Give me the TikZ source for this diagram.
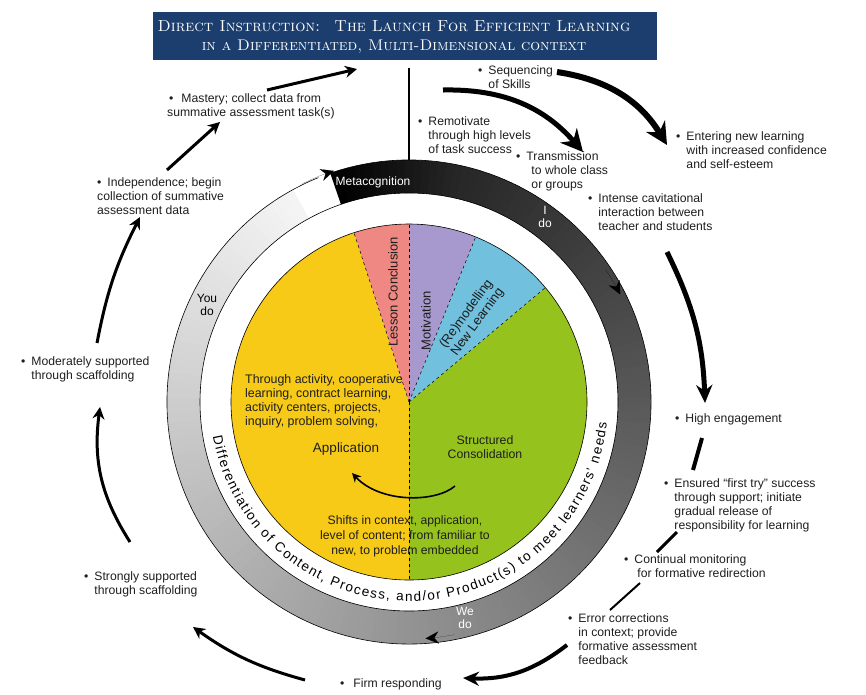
\documentclass[tikz,border=0pt]{standalone}
\usepackage{fontspec}
\setsansfont{Liberation Sans}
\usetikzlibrary{arrows.meta,decorations.text}

\definecolor{titleblue}{RGB}{28,62,110}
\definecolor{appyellow}{RGB}{247,202,24}
\definecolor{consgreen}{RGB}{150,194,30}
\definecolor{modblue}{RGB}{112,192,222}
\definecolor{motpurple}{RGB}{167,153,206}
\definecolor{conpink}{RGB}{239,136,130}
\definecolor{inktext}{RGB}{30,30,30}

\newcommand{\bitem}[1]{\textbullet\hspace{6pt}\begin{tabular}[t]{@{}l@{}}#1\end{tabular}}
\newcommand{\pitem}[1]{\begin{tabular}[t]{@{}l@{}}#1\end{tabular}}

\begin{document}
\begin{tikzpicture}[x=1pt,y=1pt,
    note/.style={anchor=base west, inner sep=0pt, text=inktext,
      font=\sffamily\fontsize{12.2}{14.3}\selectfont},
    slice/.style={draw=black, line width=0.5pt, dashed},
    ringlbl/.style={inner sep=0pt, align=center, font=\sffamily\fontsize{12}{13.5}\selectfont},
    pielbl/.style={inner sep=0pt, align=center, text=inktext,
      font=\sffamily\fontsize{13}{14}\selectfont},
    cyc/.style={line width=3pt, -{Stealth[length=12pt,width=12pt]}},
    bigcyc/.style={line width=6pt, -{Stealth[length=22pt,width=22pt]}},
    cycbar/.style={line width=3pt},
    ringtip/.style={line width=0.05pt, -{Stealth[length=13pt,width=12pt]}}]

\useasboundingbox (0,0) rectangle (866,-694);

% title bar
\node[fill=titleblue, minimum width=504, minimum height=48] (title) at (405,-36) {};
\node[text=white, align=center, font=\rmfamily\scshape\fontsize{16}{18.5}\selectfont]
  (titletext) at (394,-37) {Direct Instruction: \ The Launch For Efficient Learning\\
  {\fontsize{15.5}{17}\selectfont in a Differentiated, Multi-Dimensional context}};

\begin{scope}[shift={(409,-402)}]
  % graded ring, clockwise from metacognition
  \foreach \t in {0,2,...,348} {
    \pgfmathsetmacro{\ringk}{\t<30 ? 100-0.5*\t : 85-0.254*(\t-30)}
    \pgfmathsetmacro{\ringa}{109-\t}
    \pgfmathsetmacro{\ringb}{106.6-\t}
    \fill[black!\ringk] (\ringa:209) arc[start angle=\ringa, end angle=\ringb, radius=209]
      -- (\ringb:242) arc[start angle=\ringb, end angle=\ringa, radius=242] -- cycle;
  }
  \draw[line width=0.6pt] (0,0) circle[radius=209];
  \draw[line width=0.6pt] (109:242) arc[start angle=109, end angle=-248, radius=242];
  \draw[ringtip] (116:243) arc[start angle=116, end angle=108, radius=243];
  \draw[ringtip] (34:237) arc[start angle=34, end angle=27, radius=237];
  \draw[ringtip] (-79:237) arc[start angle=-79, end angle=-86, radius=237];

  % pie
  \foreach \from/\to/\col in {108/270/appyellow, -90/40/consgreen,
      40/68/modblue, 68/90/motpurple, 90/108/conpink}
    \fill[\col] (0,0) -- (\from:178) arc[start angle=\from, end angle=\to, radius=178] -- cycle;
  \foreach \a in {40,68,90,108,270}
    \draw[slice] (0,0) -- (\a:178);
  \draw[line width=0.6pt] (0,0) circle[radius=178];

  % text round the pie
  \path[decorate, decoration={text along path, text align={fit to path},
      text={|\sffamily\fontsize{13.5}{15}\selectfont|Differentiation of Content, Process, and/or Product(s) to meet learners’ needs}}]
    (190:199) arc[start angle=190, end angle=354, radius=199];
\end{scope}

% ring labels
\node[ringlbl, text=white] (meta) at (373,-182) {Metacognition};
\node[ringlbl, text=white] (ido) at (545,-217) {I\\do};
\node[ringlbl, text=black] (youdo) at (207,-305) {You\\do};
\node[ringlbl, text=white] (wedo) at (465,-618) {We\\do};

% pie labels
\node[pielbl, rotate=90] (conclusion) at (393,-292) {Lesson Conclusion};
\node[pielbl, rotate=90] (motivation) at (426,-321) {Motivation};
\node[pielbl, rotate=54] (remodel) at (472,-318) {(Re)modelling\\New Learning};
\node[note, font=\sffamily\fontsize{12.4}{14}\selectfont] (through) at (245,-383) {\pitem{Through activity, cooperative\\learning, contract learning,\\activity centers, projects,\\inquiry, problem solving,}};
\node[pielbl, font=\sffamily\fontsize{13.5}{14}\selectfont] (application) at (346,-449) {Application};
\node[pielbl, font=\sffamily\fontsize{12.3}{13.5}\selectfont] (consol) at (485,-447) {Structured\\Consolidation};
\node[pielbl, font=\sffamily\fontsize{12.2}{15}\selectfont] (shifts) at (405,-536) {Shifts in context, application,\\level of content; from familiar to\\new, to problem embedded};
\coordinate (swingA) at (455,-486);
\coordinate (swingB) at (352,-473);
\draw[line width=1.6pt, -{Stealth[length=9pt,width=9pt]}] (swingA) .. controls (435,-503) and (380,-503) .. (swingB);

% stages round the cycle
\node[note] (seq) at (478,-74) {\bitem{Sequencing\\of Skills}};
\node[note] (remot) at (418,-125) {\bitem{Remotivate\\through high levels\\of task success}};
\node[note] (trans) at (516,-160) {\bitem{Transmission\\\hspace{5pt}to whole class\\\hspace{5pt}or groups}};
\node[note] (enter) at (676,-140) {\bitem{Entering new learning\\with increased confidence\\and self-esteem}};
\node[note] (intense) at (588,-202) {\bitem{Intense cavitational\\interaction between\\teacher and students}};
\node[note] (high) at (675,-422) {\bitem{High engagement}};
\node[note] (ensured) at (664,-487) {\bitem{Ensured “first try” success\\through support; initiate\\gradual release of\\responsibility for learning}};
\node[note] (contin) at (624,-563) {\bitem{Continual monitoring\\\hspace{3pt}for formative redirection}};
\node[note] (error) at (568,-622) {\bitem{Error corrections\\in context; provide\\formative assessment\\feedback}};
\node[note] (firm) at (340,-687) {\textbullet\hspace{9pt}Firm responding};
\node[note] (strong) at (84,-580) {\bitem{Strongly supported\\through scaffolding}};
\node[note] (moder) at (21,-365) {\bitem{Moderately supported\\through scaffolding}};
\node[note] (indep) at (97,-186) {\pitem{\textbullet\hspace{6pt}Independence; begin\\collection of summative\\assessment data}};
\node[note] (mastery) at (167,-102) {\pitem{\hspace{2pt}\textbullet\hspace{8pt}Mastery; collect data from\\summative assessment task(s)}};

% arrow ends
\coordinate (launchTop) at (409,-68);
\coordinate (launchBot) at (409,-160);
\coordinate (seqA) at (557,-72);   \coordinate (seqB) at (667,-145);
\coordinate (remA) at (443,-90);   \coordinate (remB) at (583,-152);
\coordinate (intA) at (667,-252);  \coordinate (intB) at (705,-403);
\coordinate (higA) at (702,-438);  \coordinate (higB) at (693,-470);
\coordinate (ensA) at (677,-532);  \coordinate (ensB) at (657,-552);
\coordinate (conA) at (640,-583);  \coordinate (conB) at (610,-610);
\coordinate (errA) at (567,-645);  \coordinate (errB) at (463,-678);
\coordinate (firA) at (305,-680);  \coordinate (firB) at (193,-627);
\coordinate (strA) at (130,-542);  \coordinate (strB) at (100,-407);
\coordinate (modA) at (97,-343);   \coordinate (modB) at (140,-217);
\coordinate (indA) at (167,-170);  \coordinate (indB) at (220,-122);
\coordinate (masA) at (267,-90);   \coordinate (masB) at (357,-69);

\draw[line width=2pt] (launchTop) -- (launchBot);
\draw[bigcyc] (seqA) to[bend left=25] (seqB);
\draw[bigcyc, line width=5pt] (remA) to[bend left=25] (remB);
\draw[cyc, line width=5pt, -{Stealth[length=18pt,width=16pt]}] (intA) to[bend left=12] (intB);
\draw[cycbar, line width=4pt] (higA) -- (higB);
\draw[cycbar] (ensA) -- (ensB);
\draw[cycbar, line width=2pt] (conA) -- (conB);
\draw[cyc, line width=4pt, -{Stealth[length=16pt,width=14pt]}] (errA) to[bend left=20] (errB);
\draw[cyc] (firA) to[bend left=10] (firB);
\draw[cyc] (strA) to[bend left=20] (strB);
\draw[cyc] (modA) to[bend left=8] (modB);
\draw[cyc] (indA) -- (indB);
\draw[cyc] (masA) -- (masB);
\end{tikzpicture}
\end{document}
